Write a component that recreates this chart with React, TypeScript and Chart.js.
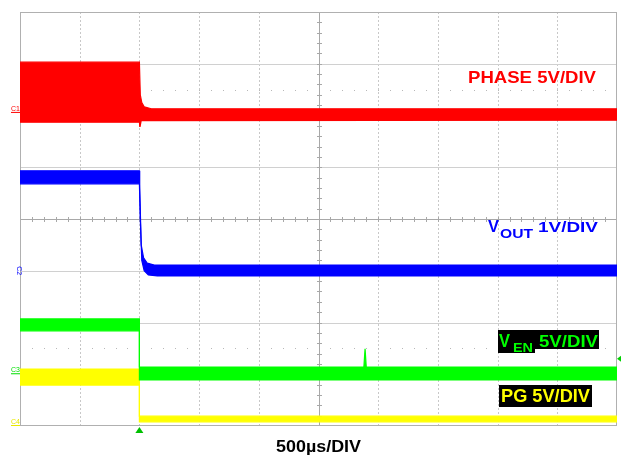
import React, { useEffect, useRef } from "react";
import { Chart, registerables } from "chart.js";

Chart.register(...registerables);

// Time axis in divisions (500 µs/div), 10 divisions; vertical in divisions, 8 divisions.
const X_DIVS = 10;
const Y_DIVS = 8;

// PHASE (5 V/div) – switching band before shutdown, then settles
const phaseUpperT = [0, 2.0, 2.015, 2.04, 2.08, 2.2, 10];
const phaseUpperV = [7.03, 7.03, 6.4, 6.25, 6.17, 6.13, 6.13];
const phaseLowerT = [0, 2.0, 2.01, 2.03, 10];
const phaseLowerV = [5.87, 5.87, 5.78, 5.9, 5.91];

// VOUT (1 V/div)
const voutUpperT = [0, 2.0, 2.005, 2.03, 2.07, 2.13, 2.25, 10];
const voutUpperV = [4.93, 4.93, 4.6, 3.5, 3.25, 3.15, 3.11, 3.11];
const voutLowerT = [0, 2.0, 2.015, 2.04, 2.08, 2.15, 2.3, 10];
const voutLowerV = [4.68, 4.68, 4.0, 3.2, 3.0, 2.92, 2.9, 2.9];

// VEN (5 V/div)
const venUpperT = [0, 2.0, 2.0, 5.76, 5.78, 5.8, 10];
const venUpperV = [2.07, 2.07, 1.14, 1.14, 1.49, 1.14, 1.14];
const venLowerT = [0, 2.0, 2.0, 10];
const venLowerV = [1.84, 1.84, 0.89, 0.89];

// PG (5 V/div)
const pgUpperT = [0, 2.0, 2.0, 10];
const pgUpperV = [1.1, 1.1, 0.19, 0.19];
const pgLowerT = [0, 2.0, 2.0, 10];
const pgLowerV = [0.79, 0.79, 0.08, 0.08];

const TRIGGER_T = 2.0;
const DOTTED_ROWS = [6.5, 1.5];
const CHANNEL_REFS = [
  { name: "C1", v: 6.05, color: "#ff0000" },
  { name: "C2", v: 3.0, color: "#0000ff" },
  { name: "C3", v: 1.0, color: "#00e000" },
  { name: "C4", v: 0.0, color: "#e8e800" },
];

const RED = "#ff0000";
const BLUE = "#0000ff";
const GREEN = "#00ff00";
const YELLOW = "#ffff00";

const pts = (t: number[], v: number[]) => t.map((x, i) => ({ x, y: v[i] }));

function band(color: string, ut: number[], uv: number[], lt: number[], lv: number[]) {
  return [
    {
      data: pts(ut, uv),
      borderColor: color,
      backgroundColor: color,
      borderWidth: 1.2,
      pointRadius: 0,
      tension: 0,
      fill: "+1",
    },
    {
      data: pts(lt, lv),
      borderColor: color,
      backgroundColor: color,
      borderWidth: 1.2,
      pointRadius: 0,
      tension: 0,
      fill: false,
    },
  ];
}

function fitText(
  ctx: CanvasRenderingContext2D,
  text: string,
  x: number,
  baseline: number,
  width: number,
  font: string,
  color: string
) {
  ctx.save();
  ctx.font = font;
  ctx.fillStyle = color;
  ctx.textBaseline = "alphabetic";
  ctx.textAlign = "left";
  const w = ctx.measureText(text).width;
  const s = width / w;
  ctx.translate(x, baseline);
  ctx.scale(s, 1);
  ctx.fillText(text, 0, 0);
  ctx.restore();
}

const FONT = "'Liberation Sans', Arial, sans-serif";

const scopePlugin = {
  id: "scope",
  beforeDatasetsDraw(chart: any) {
    const { ctx, chartArea } = chart;
    const xs = chart.scales.x;
    const ys = chart.scales.y;
    const { left, right, top, bottom } = chartArea;
    ctx.save();
    // vertical dashed grid
    ctx.strokeStyle = "#c8c8c8";
    ctx.lineWidth = 1;
    ctx.setLineDash([2, 2]);
    for (let i = 1; i < X_DIVS; i++) {
      if (i === X_DIVS / 2) continue;
      const x = Math.round(xs.getPixelForValue(i)) + 0.5;
      ctx.beginPath();
      ctx.moveTo(x, top);
      ctx.lineTo(x, bottom);
      ctx.stroke();
    }
    ctx.setLineDash([]);
    // horizontal grid
    ctx.strokeStyle = "#d0d0d0";
    for (let j = 1; j < Y_DIVS; j++) {
      if (j === Y_DIVS / 2) continue;
      const y = Math.round(ys.getPixelForValue(j)) + 0.5;
      ctx.beginPath();
      ctx.moveTo(left, y);
      ctx.lineTo(right, y);
      ctx.stroke();
    }
    // dotted rows
    ctx.fillStyle = "#b8b8b8";
    for (const r of DOTTED_ROWS) {
      const y = Math.round(ys.getPixelForValue(r));
      for (let k = 1; k < X_DIVS * 5; k++) {
        const x = Math.round(xs.getPixelForValue(k / 5));
        ctx.fillRect(x, y, 1, 1);
      }
    }
    // centre axes with minor ticks
    ctx.strokeStyle = "#a8a8a8";
    const cx = Math.round(xs.getPixelForValue(X_DIVS / 2)) + 0.5;
    const cy = Math.round(ys.getPixelForValue(Y_DIVS / 2)) + 0.5;
    ctx.beginPath();
    ctx.moveTo(left, cy);
    ctx.lineTo(right, cy);
    ctx.moveTo(cx, top);
    ctx.lineTo(cx, bottom);
    for (let k = 1; k < X_DIVS * 5; k++) {
      const x = Math.round(xs.getPixelForValue(k / 5)) + 0.5;
      ctx.moveTo(x, cy - 2.5);
      ctx.lineTo(x, cy + 2.5);
    }
    for (let k = 1; k < Y_DIVS * 5; k++) {
      const y = Math.round(ys.getPixelForValue(k / 5)) + 0.5;
      ctx.moveTo(cx - 2.5, y);
      ctx.lineTo(cx + 2.5, y);
    }
    ctx.stroke();
    // border
    ctx.strokeStyle = "#b0b0b0";
    ctx.strokeRect(left + 0.5, top + 0.5, right - left - 1, bottom - top - 1);
    ctx.restore();
  },
  afterDraw(chart: any) {
    const { ctx, chartArea } = chart;
    const xs = chart.scales.x;
    const ys = chart.scales.y;
    ctx.save();
    // trigger marker
    const tx = xs.getPixelForValue(TRIGGER_T);
    ctx.fillStyle = "#00c000";
    ctx.beginPath();
    ctx.moveTo(tx - 4, chartArea.bottom + 7);
    ctx.lineTo(tx + 4, chartArea.bottom + 7);
    ctx.lineTo(tx, chartArea.bottom + 1);
    ctx.closePath();
    ctx.fill();
    // right-edge level marker
    const my = ys.getPixelForValue(1.3);
    ctx.fillStyle = "#00d000";
    ctx.beginPath();
    ctx.moveTo(chartArea.right + 4, my - 3);
    ctx.lineTo(chartArea.right + 4, my + 3);
    ctx.lineTo(chartArea.right, my);
    ctx.closePath();
    ctx.fill();
    // channel reference labels
    for (const c of CHANNEL_REFS) {
      const y = ys.getPixelForValue(c.v);
      ctx.fillStyle = c.color;
      ctx.font = `7px ${FONT}`;
      if (c.name === "C2") {
        ctx.save();
        ctx.translate(17, y);
        ctx.rotate(Math.PI / 2);
        ctx.textAlign = "center";
        ctx.textBaseline = "alphabetic";
        ctx.fillText(c.name, 0, 0);
        ctx.restore();
      } else {
        ctx.textAlign = "left";
        ctx.textBaseline = "alphabetic";
        ctx.fillText(c.name, 11, y - 2);
        ctx.fillRect(11, y - 1, 9, 1);
      }
    }
    // labels
    const B = (px: number) => `bold ${px}px ${FONT}`;
    fitText(ctx, "PHASE 5V/DIV", 468, 83, 128, B(17), RED);

    fitText(ctx, "V", 488, 232, 11, B(17), BLUE);
    fitText(ctx, "OUT", 500, 238, 33, B(12), BLUE);
    fitText(ctx, "1V/DIV", 538, 232, 60, B(15), BLUE);

    ctx.fillStyle = "#000000";
    ctx.fillRect(498, 330, 101, 19);
    ctx.fillRect(498, 330, 37, 23);
    fitText(ctx, "V", 499, 347, 11, B(18), GREEN);
    fitText(ctx, "EN", 513, 352, 20, B(13), GREEN);
    fitText(ctx, "5V/DIV", 539, 347, 59, B(17), GREEN);

    ctx.fillStyle = "#000000";
    ctx.fillRect(499, 385, 93, 22);
    fitText(ctx, "PG 5V/DIV", 501, 402, 89, B(18), YELLOW);

    fitText(ctx, "500µs/DIV", 276, 452, 85, B(17), "#000000");
    ctx.restore();
  },
};

export default function App() {
  const ref = useRef<HTMLCanvasElement | null>(null);
  useEffect(() => {
    if (!ref.current) return;
    const chart = new Chart(ref.current, {
      type: "line",
      data: {
        datasets: [
          ...band(RED, phaseUpperT, phaseUpperV, phaseLowerT, phaseLowerV),
          ...band(BLUE, voutUpperT, voutUpperV, voutLowerT, voutLowerV),
          ...band(GREEN, venUpperT, venUpperV, venLowerT, venLowerV),
          ...band(YELLOW, pgUpperT, pgUpperV, pgLowerT, pgLowerV),
        ] as any,
      },
      options: {
        responsive: false,
        animation: false,
        devicePixelRatio: 1,
        layout: { padding: { left: 20, top: 12, right: 4, bottom: 33 } },
        plugins: { legend: { display: false }, tooltip: { enabled: false } },
        scales: {
          x: { type: "linear", min: 0, max: X_DIVS, display: false },
          y: { type: "linear", min: 0, max: Y_DIVS, display: false },
        },
      },
      plugins: [scopePlugin],
    });
    return () => chart.destroy();
  }, []);
  return (
    <div style={{ position: "fixed", left: 0, top: 0, width: 621, height: 459, background: "#fff" }}>
      <canvas ref={ref} width={621} height={459} style={{ width: 621, height: 459 }} />
    </div>
  );
}
